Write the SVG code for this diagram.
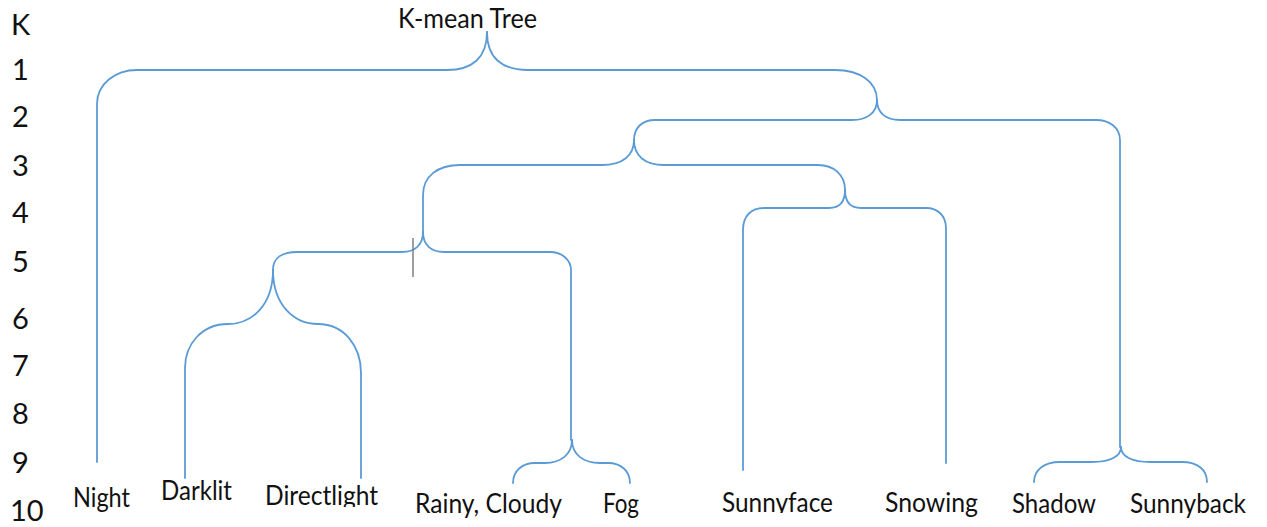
<svg xmlns="http://www.w3.org/2000/svg" width="1267" height="527" viewBox="0 0 1267 527">
  <style>
    .lbl { font-family: Lato, "Liberation Sans", sans-serif; font-size: 27px; fill: #111; }
    .lvl { font-family: Lato, "Liberation Sans", sans-serif; font-size: 29px; fill: #111; }
    .br  { fill: none; stroke: #5B9BD5; stroke-width: 1.8; stroke-linecap: round; }
    .caret { stroke: #7f7f7f; stroke-width: 1.5; }
  </style>
  <defs>
    <clipPath id="clip-directlight"><rect x="250" y="470" width="150" height="37"/></clipPath>
    <clipPath id="clip-sunnyface"><rect x="710" y="480" width="140" height="33"/></clipPath>
    <clipPath id="clip-sunnyback"><rect x="1120" y="480" width="140" height="38"/></clipPath>
  </defs>
  <rect width="1267" height="527" fill="#ffffff"/>

  <!-- level scale on the left -->
  <g id="levels" class="lvl">
    <text x="11" y="35">K</text>
    <text x="12" y="80">1</text>
    <text x="12" y="127">2</text>
    <text x="12" y="176">3</text>
    <text x="12" y="223">4</text>
    <text x="12" y="272">5</text>
    <text x="12" y="329">6</text>
    <text x="12" y="376">7</text>
    <text x="12" y="424">8</text>
    <text x="12" y="473">9</text>
    <text x="10" y="521">10</text>
  </g>

  <!-- brace connectors -->
  <g id="connectors" class="br">
    <!-- root split -->
    <path d="M487,32 C487,58 472,70 447,70 H137 C115,70 97,84 97,104 V462"/>
    <path d="M487,32 C487,58 502,70 528,70 H835 C860,70 877,82 877,100"/>
    <!-- level 2 -->
    <path d="M877,100 C877,113 867,120 852,120 H655 C642,120 634,128 634,140"/>
    <path d="M877,100 C877,113 886,120 900,120 H1096 C1110,120 1120,128 1120,140 V447"/>
    <!-- level 3 -->
    <path d="M634,140 C634,156 622,165 602,165 H460 C438,165 423,176 423,195 V232"/>
    <path d="M634,140 C634,156 645,165 664,165 H818 C834,165 845,175 845,190"/>
    <!-- level 4 -->
    <path d="M845,190 C845,201 840,208 829,208 H764 C751,208 743,216 743,230 V470"/>
    <path d="M845,190 C845,201 850,208 861,208 H926 C938,208 946,216 946,228 V463"/>
    <!-- level 5 -->
    <path d="M423,232 C423,245 415,252 402,252 H297 C282,252 273,258 273,270"/>
    <path d="M423,232 C423,245 431,252 444,252 H550 C562,252 571,260 571,270 V440"/>
    <!-- level 6 -->
    <path d="M273,270 C273,305 252,324 228,324 C202,324 185,344 185,368 V478"/>
    <path d="M273,270 C273,305 294,324 318,324 C344,324 361,346 361,373 V478"/>
    <!-- leaf pair splits -->
    <path d="M572,440 C572,455 560,463 545,463 H535 C522,463 513,471 513,483"/>
    <path d="M572,440 C572,455 584,463 600,463 H608 C621,463 630,471 630,483"/>
    <path d="M1121,447 C1121,457 1109,462 1092,462 H1060 C1044,462 1034,470 1034,482"/>
    <path d="M1121,447 C1121,457 1133,462 1150,462 H1182 C1198,462 1207,470 1207,482"/>
  </g>

  <!-- text cursor mark -->
  <line class="caret" x1="413" y1="238" x2="413" y2="277"/>

  <g id="node-root"><text class="lbl" x="398" y="28" textLength="139" lengthAdjust="spacingAndGlyphs">K-mean Tree</text></g>
  <g id="node-night"><text class="lbl" x="73" y="507" textLength="57" lengthAdjust="spacingAndGlyphs">Night</text></g>
  <g id="node-darklit"><text class="lbl" x="161" y="500" textLength="71" lengthAdjust="spacingAndGlyphs">Darklit</text></g>
  <g id="node-directlight" clip-path="url(#clip-directlight)"><text class="lbl" x="265" y="505" textLength="113" lengthAdjust="spacingAndGlyphs">Directlight</text></g>
  <g id="node-rainy-cloudy"><text class="lbl" x="415" y="513" textLength="147" lengthAdjust="spacingAndGlyphs">Rainy, Cloudy</text></g>
  <g id="node-fog"><text class="lbl" x="603" y="513" textLength="36" lengthAdjust="spacingAndGlyphs">Fog</text></g>
  <g id="node-sunnyface" clip-path="url(#clip-sunnyface)"><text class="lbl" x="722" y="512" textLength="111" lengthAdjust="spacingAndGlyphs">Sunnyface</text></g>
  <g id="node-snowing"><text class="lbl" x="885" y="512" textLength="93" lengthAdjust="spacingAndGlyphs">Snowing</text></g>
  <g id="node-shadow"><text class="lbl" x="1012" y="513" textLength="84" lengthAdjust="spacingAndGlyphs">Shadow</text></g>
  <g id="node-sunnyback" clip-path="url(#clip-sunnyback)"><text class="lbl" x="1130" y="513" textLength="116" lengthAdjust="spacingAndGlyphs">Sunnyback</text></g>
</svg>
